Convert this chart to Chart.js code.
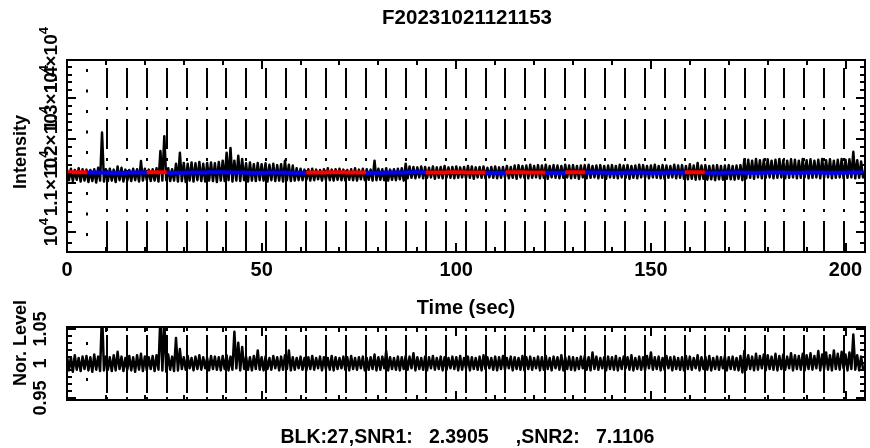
<!DOCTYPE html>
<html>
<head>
<meta charset="utf-8">
<script src="https://cdn.jsdelivr.net/npm/chart.js@4"></script>
<style>
  html, body { margin: 0; padding: 0; background: #fff; }
  #wrap { position: relative; width: 870px; height: 448px; }
  canvas { position: absolute; left: 0; top: 0; }
</style>
</head>
<body>
<div id="wrap">
  <canvas id="topChart" width="870" height="448"></canvas>
  <canvas id="bottomChart" width="870" height="448"></canvas>
</div>
<script>
// texts
const plotTitle = "F20231021121153";
const footerText = "BLK:27,SNR1:   2.3905     ,SNR2:   7.1106";

// axis ticks
const timeTicks = [0, 50, 100, 150, 200];
const timeLabels = ["0", "50", "100", "150", "200"];
const intensityTicks = [10000, 11000, 12000, 13000, 14000];
const intensityLabels = [["10", "4"], ["1.1×10", "4"], ["1.2×10", "4"], ["1.3×10", "4"], ["1.4×10", "4"]];
const levelTicks = [0.95, 1, 1.05];
const levelLabels = ["0.95", "1", "1.05"];

// block edges (sec), flagged blocks drawn red, fitted level per block
const blockEdges = [0, 5.12, 10.24, 15.36, 20.48, 25.6, 30.72, 35.84, 40.96, 46.08,
  51.2, 56.32, 61.44, 66.56, 71.68, 76.8, 81.92, 87.04, 92.16, 97.28,
  102.4, 107.52, 112.64, 117.76, 122.88, 128, 133.12, 138.24, 143.36, 148.48,
  153.6, 158.72, 163.84, 168.96, 174.08, 179.2, 184.32, 189.44, 194.56, 199.68, 205];
const blockFlag = [1, 0, 0, 0, 1, 0, 0, 0, 0, 0,
  0, 0, 1, 1, 1, 0, 0, 0, 1, 1,
  1, 0, 1, 1, 0, 1, 0, 0, 0, 0,
  0, 1, 0, 0, 0, 0, 0, 0, 0, 0];
const blockFit = [11240, 11235, 11230, 11235, 11240, 11230, 11235, 11240, 11235, 11230,
  11235, 11230, 11235, 11240, 11235, 11230, 11235, 11240, 11235, 11240,
  11235, 11230, 11240, 11235, 11230, 11240, 11235, 11230, 11235, 11230,
  11235, 11240, 11230, 11235, 11230, 11235, 11230, 11235, 11230, 11235];

// intensity, upper / lower envelope per second (t = 0..204)
const intensityHigh = [
  11300, 11320, 11290, 11330, 11310, 11300, 11290, 11310, 11340, 12150,
  11310, 11320, 11300, 11370, 11340, 11300, 11290, 11320, 11310, 11490,
  11320, 11300, 11310, 11330, 11720, 12060, 11330, 11310, 11430, 11680,
  11450, 11430, 11460, 11440, 11470, 11430, 11450, 11460, 11440, 11470,
  11500, 11680, 11790, 11500, 11610, 11540, 11440, 11460, 11420, 11450,
  11420, 11440, 11410, 11430, 11400, 11420, 11500, 11410, 11390, 11330,
  11320, 11300, 11310, 11320, 11300, 11290, 11310, 11330, 11300, 11310,
  11320, 11300, 11290, 11310, 11330, 11300, 11320, 11310, 11300, 11500,
  11320, 11310, 11330, 11300, 11310, 11320, 11330, 11430, 11370, 11360,
  11350, 11370, 11360, 11340, 11370, 11350, 11360, 11380, 11350, 11360,
  11370, 11350, 11360, 11380, 11370, 11350, 11360, 11370, 11340, 11360,
  11370, 11350, 11360, 11380, 11360, 11390, 11400, 11380, 11390, 11410,
  11380, 11400, 11390, 11410, 11380, 11400, 11390, 11380, 11410, 11390,
  11400, 11380, 11390, 11400, 11410, 11380, 11390, 11400, 11380, 11390,
  11400, 11380, 11410, 11390, 11400, 11380, 11390, 11410, 11400, 11380,
  11390, 11410, 11380, 11400, 11390, 11380, 11410, 11390, 11400, 11380,
  11420, 11390, 11450, 11390, 11400, 11380, 11390, 11400, 11380, 11390,
  11400, 11380, 11390, 11400, 11530, 11520, 11500, 11540, 11510, 11520,
  11530, 11500, 11520, 11540, 11510, 11500, 11530, 11520, 11500, 11540,
  11510, 11530, 11500, 11520, 11540, 11510, 11530, 11500, 11520, 11540,
  11520, 11530, 11700, 11510, 11480];
const intensityLow = [
  11070, 11050, 11080, 11040, 11060, 11030, 11050, 11020, 11060, 11040,
  11050, 11060, 11030, 11070, 11040, 11060, 11050, 11070, 11040, 11060,
  11070, 11050, 11060, 11040, 11060, 11070, 11050, 11060, 11040, 11050,
  11030, 11060, 11040, 11070, 11050, 11040, 11060, 11050, 11030, 11060,
  11050, 11070, 11040, 11060, 11050, 11070, 11040, 11060, 11050, 11070,
  11060, 11040, 11070, 11050, 11060, 11040, 11070, 11050, 11060, 11070,
  11070, 11080, 11060, 11070, 11090, 11060, 11080, 11070, 11060, 11080,
  11070, 11060, 11080, 11070, 11060, 11090, 11070, 11080, 11060, 11070,
  11080, 11070, 11060, 11080, 11070, 11090, 11060, 11110, 11120, 11110,
  11130, 11110, 11120, 11130, 11100, 11120, 11110, 11130, 11120, 11110,
  11120, 11130, 11110, 11120, 11100, 11130, 11120, 11110, 11130, 11120,
  11110, 11120, 11130, 11110, 11120, 11100, 11130, 11120, 11110, 11120,
  11130, 11110, 11120, 11100, 11130, 11120, 11110, 11120, 11130, 11110,
  11120, 11100, 11130, 11110, 11120, 11130, 11110, 11120, 11100, 11130,
  11120, 11110, 11130, 11120, 11100, 11120, 11110, 11130, 11120, 11110,
  11130, 11120, 11110, 11100, 11120, 11130, 11110, 11120, 11100, 11090,
  11100, 11080, 11090, 11100, 11080, 11090, 11070, 11090, 11080, 11100,
  11090, 11080, 11100, 11070, 11110, 11120, 11100, 11130, 11110, 11120,
  11130, 11110, 11120, 11130, 11110, 11120, 11130, 11110, 11120, 11130,
  11110, 11120, 11130, 11110, 11120, 11130, 11110, 11120, 11130, 11110,
  11120, 11130, 11110, 11120, 11130];

// normalised level, upper / lower envelope per second (t = 0..204)
const levelHigh = [
  1.011, 1.009, 1.012, 1.008, 1.010, 1.011, 1.009, 1.013, 1.010, 1.075,
  1.010, 1.009, 1.012, 1.017, 1.010, 1.008, 1.011, 1.009, 1.012, 1.014,
  1.010, 1.009, 1.011, 1.012, 1.070, 1.065, 1.013, 1.010, 1.037, 1.021,
  1.009, 1.011, 1.008, 1.010, 1.012, 1.009, 1.008, 1.011, 1.010, 1.009,
  1.011, 1.012, 1.010, 1.046, 1.030, 1.024, 1.010, 1.009, 1.011, 1.019,
  1.009, 1.010, 1.008, 1.011, 1.009, 1.010, 1.012, 1.019, 1.009, 1.008,
  1.010, 1.008, 1.009, 1.011, 1.008, 1.010, 1.009, 1.008, 1.011, 1.009,
  1.008, 1.010, 1.009, 1.011, 1.008, 1.009, 1.010, 1.008, 1.009, 1.013,
  1.009, 1.010, 1.018, 1.009, 1.008, 1.010, 1.009, 1.011, 1.010, 1.015,
  1.009, 1.008, 1.010, 1.009, 1.011, 1.008, 1.010, 1.009, 1.008, 1.010,
  1.009, 1.011, 1.008, 1.010, 1.009, 1.008, 1.010, 1.012, 1.009, 1.008,
  1.010, 1.009, 1.011, 1.008, 1.010, 1.009, 1.008, 1.011, 1.009, 1.010,
  1.008, 1.010, 1.009, 1.011, 1.008, 1.010, 1.009, 1.012, 1.009, 1.010,
  1.009, 1.008, 1.010, 1.011, 1.009, 1.016, 1.010, 1.008, 1.009, 1.010,
  1.009, 1.011, 1.008, 1.010, 1.009, 1.012, 1.008, 1.010, 1.009, 1.011,
  1.016, 1.009, 1.010, 1.008, 1.011, 1.009, 1.010, 1.008, 1.009, 1.011,
  1.010, 1.008, 1.012, 1.009, 1.010, 1.011, 1.008, 1.010, 1.009, 1.011,
  1.009, 1.010, 1.008, 1.011, 1.018, 1.012, 1.010, 1.014, 1.011, 1.013,
  1.012, 1.010, 1.014, 1.011, 1.013, 1.010, 1.015, 1.012, 1.011, 1.014,
  1.012, 1.015, 1.011, 1.018, 1.013, 1.016, 1.012, 1.019, 1.014, 1.017,
  1.013, 1.016, 1.042, 1.012, 1.010];
const levelLow = [
  0.990, 0.988, 0.991, 0.989, 0.992, 0.990, 0.988, 0.991, 0.989, 0.990,
  0.991, 0.989, 0.990, 0.992, 0.989, 0.991, 0.990, 0.988, 0.991, 0.989,
  0.990, 0.992, 0.989, 0.991, 0.990, 0.988, 0.991, 0.989, 0.990, 0.992,
  0.991, 0.993, 0.990, 0.992, 0.991, 0.993, 0.990, 0.992, 0.991, 0.990,
  0.992, 0.990, 0.991, 0.993, 0.990, 0.992, 0.991, 0.990, 0.992, 0.991,
  0.990, 0.992, 0.991, 0.993, 0.990, 0.991, 0.992, 0.990, 0.991, 0.993,
  0.991, 0.990, 0.992, 0.991, 0.993, 0.990, 0.992, 0.991, 0.990, 0.992,
  0.993, 0.991, 0.990, 0.992, 0.991, 0.993, 0.990, 0.991, 0.992, 0.990,
  0.991, 0.993, 0.990, 0.992, 0.991, 0.990, 0.992, 0.991, 0.993, 0.990,
  0.992, 0.991, 0.990, 0.993, 0.991, 0.992, 0.990, 0.991, 0.993, 0.992,
  0.990, 0.991, 0.993, 0.990, 0.992, 0.991, 0.990, 0.992, 0.993, 0.991,
  0.990, 0.992, 0.991, 0.993, 0.990, 0.992, 0.991, 0.990, 0.992, 0.991,
  0.993, 0.990, 0.991, 0.992, 0.990, 0.993, 0.991, 0.990, 0.992, 0.991,
  0.990, 0.992, 0.993, 0.991, 0.990, 0.992, 0.991, 0.993, 0.990, 0.992,
  0.991, 0.990, 0.992, 0.993, 0.991, 0.990, 0.992, 0.991, 0.990, 0.993,
  0.991, 0.992, 0.990, 0.991, 0.993, 0.990, 0.992, 0.991, 0.990, 0.992,
  0.991, 0.993, 0.990, 0.992, 0.991, 0.990, 0.992, 0.991, 0.993, 0.990,
  0.992, 0.991, 0.990, 0.987, 0.991, 0.992, 0.990, 0.991, 0.993, 0.990,
  0.992, 0.991, 0.990, 0.992, 0.991, 0.993, 0.990, 0.992, 0.991, 0.990,
  0.992, 0.991, 0.993, 0.990, 0.992, 0.991, 0.990, 0.992, 0.991, 0.993,
  0.990, 0.992, 0.991, 0.990, 0.992];

const FONT = '"Liberation Sans", Arial, sans-serif';

// envelope arrays -> zig-zag line points
function envelopePoints(high, low) {
  const pts = [];
  for (let i = 0; i < high.length; i++) {
    pts.push({ x: i, y: high[i] });
    pts.push({ x: i + 0.5, y: low[i] });
  }
  return pts;
}

// fitted block levels -> line points, one dataset per colour
function fitPoints(flag) {
  const pts = [];
  for (let k = 0; k < blockFit.length; k++) {
    if (blockFlag[k] !== flag) continue;
    pts.push({ x: blockEdges[k], y: blockFit[k] });
    pts.push({ x: blockEdges[k + 1], y: blockFit[k] });
    pts.push({ x: blockEdges[k + 1], y: null });
  }
  return pts;
}

function rotatedText(ctx, text, x, y) {
  ctx.save();
  ctx.translate(x, y);
  ctx.rotate(-Math.PI / 2);
  ctx.textAlign = "center";
  ctx.textBaseline = "middle";
  ctx.fillText(text, 0, 0);
  ctx.restore();
}

// frame, inward ticks, block lines and labels in IDL style
function panelPlugin(cfg) {
  return {
    id: "panel_" + cfg.name,
    beforeDatasetsDraw(chart) {
      const { ctx, chartArea: a, scales: { x } } = chart;
      ctx.save();
      ctx.beginPath();
      ctx.rect(a.left, a.top, a.width, a.height);
      ctx.clip();
      ctx.strokeStyle = "#000";
      ctx.lineWidth = 2;
      for (let k = 1; k < blockEdges.length - 1; k++) {
        const px = Math.round(x.getPixelForValue(blockEdges[k]));
        if (k === 1) {
          ctx.setLineDash(cfg.dots);
          ctx.lineDashOffset = cfg.dotOffset;
        } else {
          ctx.setLineDash(cfg.dashes);
          ctx.lineDashOffset = cfg.dashOffset;
        }
        ctx.beginPath();
        ctx.moveTo(px, a.top);
        ctx.lineTo(px, a.bottom);
        ctx.stroke();
      }
      ctx.restore();
    },
    afterDatasetsDraw(chart) {
      const { ctx, chartArea: a, scales: { x, y } } = chart;
      ctx.save();
      ctx.strokeStyle = "#000";
      ctx.fillStyle = "#000";
      ctx.lineWidth = 2;
      ctx.setLineDash([]);
      ctx.strokeRect(a.left, a.top, a.width, a.height);

      ctx.beginPath();
      // time ticks, top and bottom edges
      for (let t = 0; t <= 205; t += 10) {
        const px = Math.round(x.getPixelForValue(t));
        const len = t % 50 === 0 ? 9 : 5;
        ctx.moveTo(px, a.bottom); ctx.lineTo(px, a.bottom - len);
        ctx.moveTo(px, a.top); ctx.lineTo(px, a.top + len);
      }
      // value ticks, left and right edges
      cfg.yTicks().forEach(([v, major]) => {
        const py = Math.round(y.getPixelForValue(v));
        if (py < a.top || py > a.bottom) return;
        const len = major ? 9 : 5;
        ctx.moveTo(a.left, py); ctx.lineTo(a.left + len, py);
        ctx.moveTo(a.right, py); ctx.lineTo(a.right - len, py);
      });
      ctx.stroke();

      cfg.labels(ctx, a, x, y);
      ctx.restore();
    }
  };
}

const common = {
  responsive: false,
  animation: false,
  events: [],
  plugins: { legend: { display: false }, tooltip: { enabled: false } },
  elements: { point: { radius: 0 }, line: { tension: 0 } }
};

const bandStyle = { borderColor: "#000", borderWidth: 2.5, borderJoinStyle: "round", borderCapStyle: "round" };

// top panel: intensity
new Chart(document.getElementById("topChart"), {
  type: "line",
  data: {
    datasets: [
      { data: fitPoints(1), borderColor: "#ff0000", borderWidth: 4, spanGaps: false },
      { data: fitPoints(0), borderColor: "#0000ff", borderWidth: 4, spanGaps: false },
      Object.assign({ data: envelopePoints(intensityHigh, intensityLow) }, bandStyle)
    ]
  },
  options: Object.assign({}, common, {
    layout: { padding: { left: 67, right: 5, top: 60, bottom: 196 } },
    scales: {
      x: { type: "linear", min: 0, max: 205, display: false },
      y: { type: "logarithmic", min: 9620, max: 14000, display: false }
    }
  }),
  plugins: [panelPlugin({
    name: "top",
    dots: [3, 17.5],
    dotOffset: 11.5,
    dashes: [30, 9, 3, 9],
    dashOffset: 43,
    yTicks() {
      const out = [];
      for (let v = 9800; v <= 14000; v += 200) out.push([v, v % 1000 === 0]);
      return out;
    },
    labels(ctx, a, x, y) {
      ctx.textAlign = "center";
      ctx.textBaseline = "middle";
      ctx.font = "bold 20.5px " + FONT;
      ctx.fillText(plotTitle, 467, 18);
      ctx.font = "bold 20px " + FONT;
      timeTicks.forEach((t, i) => ctx.fillText(timeLabels[i], x.getPixelForValue(t), 270));
      ctx.fillText("Time (sec)", 466, 308);
      ctx.font = "bold 18px " + FONT;
      rotatedText(ctx, "Intensity", 21, 152);
      // rotated tick labels with superscript exponent
      intensityTicks.forEach((v, i) => {
        const [base, sup] = intensityLabels[i];
        const py = y.getPixelForValue(v);
        ctx.save();
        ctx.translate(57, py);
        ctx.rotate(-Math.PI / 2);
        ctx.textBaseline = "alphabetic";
        ctx.textAlign = "left";
        ctx.font = "bold 19px " + FONT;
        const wb = ctx.measureText(base).width;
        ctx.font = "bold 13px " + FONT;
        const ws = ctx.measureText(sup).width;
        const x0 = -(wb + ws) / 2;
        ctx.font = "bold 19px " + FONT;
        ctx.fillText(base, x0, 0);
        ctx.font = "bold 13px " + FONT;
        ctx.fillText(sup, x0 + wb, -9);
        ctx.restore();
      });
    }
  })]
});

// bottom panel: normalised level
new Chart(document.getElementById("bottomChart"), {
  type: "line",
  data: {
    datasets: [
      Object.assign({ data: envelopePoints(levelHigh, levelLow) }, bandStyle)
    ]
  },
  options: Object.assign({}, common, {
    layout: { padding: { left: 67, right: 5, top: 327, bottom: 48 } },
    scales: {
      x: { type: "linear", min: 0, max: 205, display: false },
      y: { type: "linear", min: 0.947, max: 1.053, display: false }
    }
  }),
  plugins: [panelPlugin({
    name: "bottom",
    dots: [3, 33],
    dotOffset: 21,
    dashes: [3, 4, 58, 4, 3, 30],
    dashOffset: 101,
    yTicks() {
      const out = [];
      for (let i = 95; i <= 105; i++) out.push([i / 100, i % 5 === 0]);
      return out;
    },
    labels(ctx, a, x, y) {
      ctx.textAlign = "center";
      ctx.textBaseline = "middle";
      ctx.font = "bold 19.5px " + FONT;
      ctx.fillText(footerText, 467.5, 438);
      ctx.font = "bold 18px " + FONT;
      rotatedText(ctx, "Nor. Level", 21, 343);
      levelTicks.forEach((v, i) => {
        ctx.save();
        ctx.translate(46, y.getPixelForValue(v));
        ctx.rotate(-Math.PI / 2);
        ctx.textAlign = "center";
        ctx.textBaseline = "alphabetic";
        ctx.fillText(levelLabels[i], 0, 0);
        ctx.restore();
      });
    }
  })]
});
</script>
</body>
</html>
